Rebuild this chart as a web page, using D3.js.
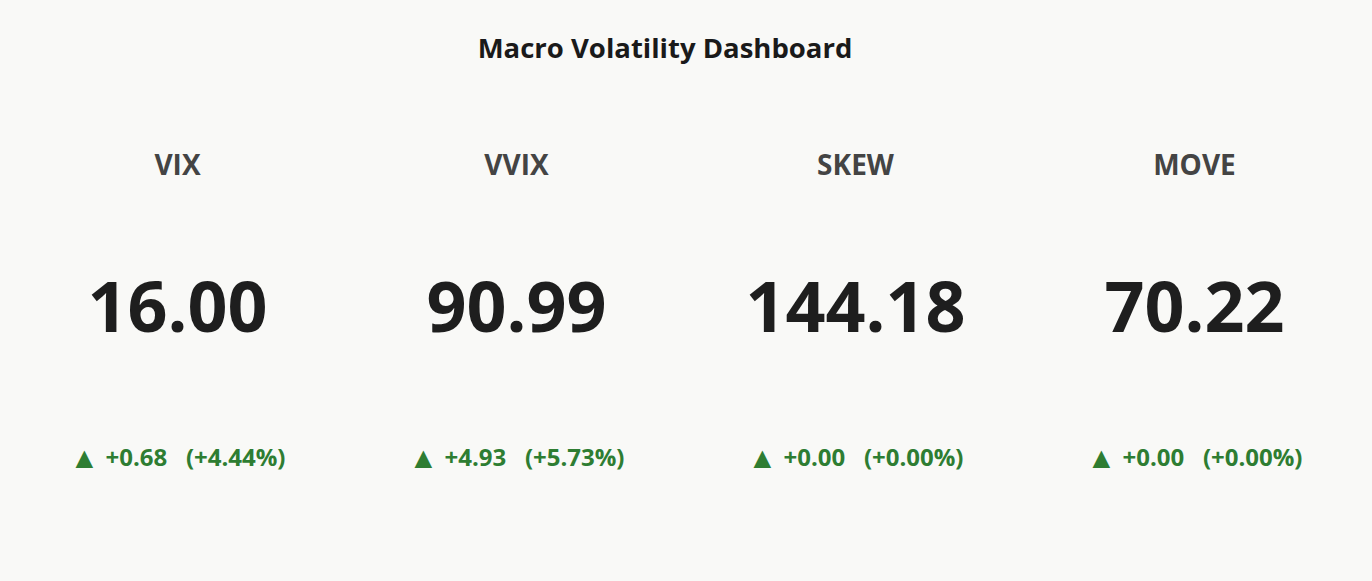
<!DOCTYPE html>
<html><head><meta charset="utf-8">
<script src="https://cdn.jsdelivr.net/npm/d3@7"></script>
<style>body{margin:0;background:#f9f9f7;}svg{display:block;font-family:"Open Sans","Noto Sans",sans-serif;}</style>
</head><body>
<script>
const names = ["VIX","VVIX","SKEW","MOVE"];
const values = [16.00, 90.99, 144.18, 70.22];
const changes = [0.68, 4.93, 0.00, 0.00];
const pctChanges = [4.44, 5.73, 0.00, 0.00];

const W = 1372, H = 581;
const svg = d3.select("body").append("svg").attr("width", W).attr("height", H);
svg.append("rect").attr("width", W).attr("height", H).attr("fill", "#f9f9f7");
svg.append("text").attr("x", 665).attr("y", 47).attr("text-anchor","middle")
  .attr("dominant-baseline","central").attr("font-size", 27.5).attr("font-weight", 700)
  .attr("fill", "#1a1a1a").text("Macro Volatility Dashboard");

const x = d3.scaleBand().domain(names).range([8, 1364]);
const g = svg.selectAll("g.ind").data(names).join("g")
  .attr("transform", d => `translate(${x(d)+x.bandwidth()/2},0)`);
g.append("text").attr("y", 164).attr("text-anchor","middle").attr("dominant-baseline","central")
  .attr("font-size", 28).attr("font-weight", 700).attr("fill", "#444").text(d => d);
g.append("text").attr("y", 305).attr("text-anchor","middle").attr("dominant-baseline","central")
  .attr("font-size", 70).attr("font-weight", 700).attr("fill", "#1e1e1e")
  .text((d,i) => values[i].toFixed(2));
const t = g.append("text").attr("y", 456).attr("text-anchor","middle").attr("dominant-baseline","central")
  .attr("font-size", 24).attr("font-weight", 700).attr("fill", "#2e7d32")
  .attr("xml:space","preserve");
t.append("tspan").attr("font-size", 30).text("▲");
t.append("tspan").text((d,i) => ` ${changes[i]>=0?"+":""}${changes[i].toFixed(2)}   (${pctChanges[i]>=0?"+":""}${pctChanges[i].toFixed(2)}%)`);
</script>
</body></html>
